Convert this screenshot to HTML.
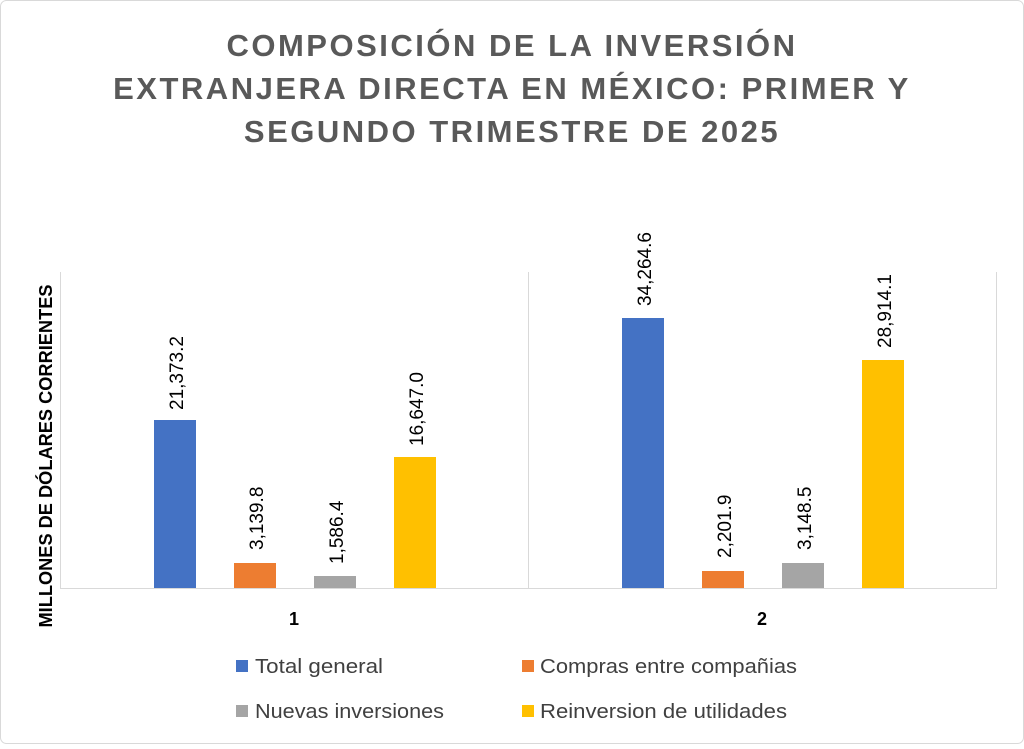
<!DOCTYPE html>
<html><head><meta charset="utf-8"><style>
body{margin:0;background:#fff;}
</style></head><body>
<svg width="1024" height="744" xmlns="http://www.w3.org/2000/svg" font-family="Liberation Sans, DejaVu Sans, sans-serif">
<rect x="0.5" y="0.5" width="1023" height="743" rx="6" fill="#fff" stroke="#d9d9d9"/>
<g font-weight="bold" fill="#595959" font-size="31" text-anchor="middle" letter-spacing="2.5">
<text x="512" y="56">COMPOSICIÓN DE LA INVERSIÓN</text>
<text x="512" y="99">EXTRANJERA DIRECTA EN MÉXICO: PRIMER Y</text>
<text x="512" y="142">SEGUNDO TRIMESTRE DE 2025</text>
</g>
<g stroke="#d9d9d9" stroke-width="1">
<line x1="60.5" y1="272" x2="60.5" y2="589"/>
<line x1="528.5" y1="272" x2="528.5" y2="589"/>
<line x1="996.5" y1="272" x2="996.5" y2="589"/>
<line x1="60" y1="588.5" x2="997" y2="588.5"/>
</g>
<rect x="154" y="420" width="42" height="168" fill="#4472c4"/>
<rect x="234" y="563" width="42" height="25" fill="#ed7d31"/>
<rect x="314" y="576" width="42" height="12" fill="#a5a5a5"/>
<rect x="394" y="457" width="42" height="131" fill="#ffc000"/>
<rect x="622" y="318" width="42" height="270" fill="#4472c4"/>
<rect x="702" y="571" width="42" height="17" fill="#ed7d31"/>
<rect x="782" y="563" width="42" height="25" fill="#a5a5a5"/>
<rect x="862" y="360" width="42" height="228" fill="#ffc000"/>
<g font-size="19" fill="#000">
<text transform="translate(183,410) rotate(-90)">21,373.2</text>
<text transform="translate(263,550) rotate(-90)">3,139.8</text>
<text transform="translate(343,564) rotate(-90)">1,586.4</text>
<text transform="translate(423,446) rotate(-90)">16,647.0</text>
<text transform="translate(651,306) rotate(-90)">34,264.6</text>
<text transform="translate(731,558) rotate(-90)">2,201.9</text>
<text transform="translate(811,550) rotate(-90)">3,148.5</text>
<text transform="translate(891,348) rotate(-90)">28,914.1</text>
</g>
<text transform="translate(52,456) rotate(-90)" text-anchor="middle" font-weight="bold" font-size="18" textLength="343" lengthAdjust="spacingAndGlyphs">MILLONES DE DÓLARES CORRIENTES</text>
<g font-weight="bold" font-size="18" text-anchor="middle">
<text x="294" y="625">1</text>
<text x="762" y="625">2</text>
</g>
<g font-size="20" fill="#404040">
<rect x="236" y="660" width="12" height="12" fill="#4472c4"/>
<text x="255" y="673" textLength="128" lengthAdjust="spacingAndGlyphs">Total general</text>
<rect x="522" y="660" width="12" height="12" fill="#ed7d31"/>
<text x="540" y="673" textLength="257" lengthAdjust="spacingAndGlyphs">Compras entre compañias</text>
<rect x="236" y="705" width="12" height="12" fill="#a5a5a5"/>
<text x="255" y="718" textLength="189" lengthAdjust="spacingAndGlyphs">Nuevas inversiones</text>
<rect x="522" y="705" width="12" height="12" fill="#ffc000"/>
<text x="540" y="718" textLength="247" lengthAdjust="spacingAndGlyphs">Reinversion de utilidades</text>
</g>
</svg>
</body></html>
